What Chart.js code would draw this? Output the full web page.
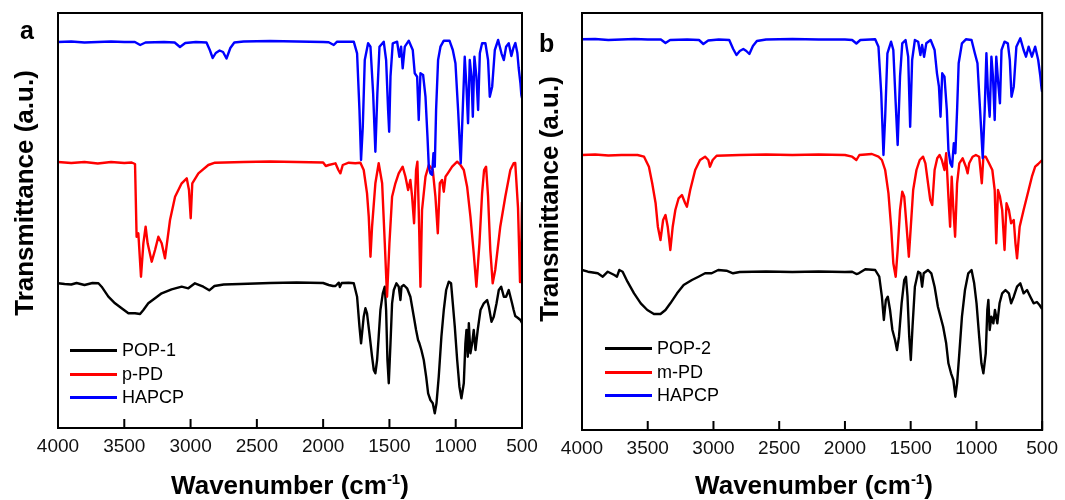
<!DOCTYPE html>
<html>
<head>
<meta charset="utf-8">
<script src="https://cdn.jsdelivr.net/npm/chart.js@4.4.1/dist/chart.umd.min.js"></script>
<style>
  html, body { margin: 0; padding: 0; background: #fff; }
  #wrap { position: relative; width: 1065px; height: 500px; overflow: hidden;
          font-family: "Liberation Sans", Arial, sans-serif; color: #000; }
  canvas { position: absolute; top: 0; }
  #chartA { left: 0; }
  #chartB { left: 530px; }
  .letter { position: absolute; font-weight: bold; font-size: 25px; line-height: 25px; }
  .ytitle { position: absolute; width: 300px; height: 26px; line-height: 26px; font-size: 26px;
            font-weight: bold; text-align: center; white-space: nowrap; transform: rotate(-90deg); }
  .xtitle { position: absolute; width: 300px; height: 26px; line-height: 26px; font-size: 26px;
            font-weight: bold; text-align: center; white-space: nowrap; }
  .xtitle sup { font-size: 15px; line-height: 0; vertical-align: 10px; }
  .legend { position: absolute; font-size: 18px; }
  .legend .row { position: absolute; left: 0; height: 20px; width: 200px; white-space: nowrap; }
  .legend .sw { position: absolute; left: 0; top: 9px; width: 47px; height: 3px; }
  .legend .txt { position: absolute; left: 52px; top: 0; line-height: 20px; }
</style>
</head>
<body>
<div id="wrap">
  <canvas id="chartA" width="560" height="500"></canvas>
  <canvas id="chartB" width="535" height="500"></canvas>

  <div class="letter" style="left:20px; top:18px;">a</div>
  <div class="letter" style="left:539px; top:31px;">b</div>

  <div class="ytitle" style="left:-126px; top:180px;">Transmittance (a.u.)</div>
  <div class="ytitle" style="left:399px; top:186px;">Transmittance (a.u.)</div>

  <div class="xtitle" style="left:140px; top:472px;">Wavenumber (cm<sup>-1</sup>)</div>
  <div class="xtitle" style="left:664px; top:472px;">Wavenumber (cm<sup>-1</sup>)</div>

  <div class="legend" id="legendA" style="left:70px; top:340px;"></div>
  <div class="legend" id="legendB" style="left:605px; top:338px;"></div>
</div>

<script>
// ---------- DATA (wavenumber cm-1, transmittance a.u. incl. stacking offset) ----------

const X_TICKS = [4000, 3500, 3000, 2500, 2000, 1500, 1000, 500];

const LABELS_A = ["POP-1", "p-PD", "HAPCP"];
const LABELS_B = ["POP-2", "m-PD", "HAPCP"];

const COLORS = [
  "#000000", // polymer
  "#ff0000", // diamine
  "#0000ff"  // HAPCP
];

// panel a
const hapcpA = [
  [4000,386],[3900,386.5],[3800,385.5],[3700,386],[3600,386.5],[3500,386],[3420,386],[3380,383],
  [3340,385.5],[3200,386],[3120,385.5],[3080,381],[3040,385],[2960,386],[2880,385.5],[2855,378],
  [2833,370],[2810,375],[2781,377.5],[2755,376],[2729,369.5],[2700,380],[2670,385.5],[2600,386.5],
  [2400,387],[2200,386.5],[2000,386],[1958,385.7],[1920,383],[1895,386.3],[1769,386.3],[1744,374.7],
  [1726,318],[1714,268],[1701,301],[1686,368],[1661,384.7],[1643,381.3],[1623,334.7],[1606,276.3],
  [1591,334.7],[1575,381.3],[1543,386.3],[1525,368],[1510,318],[1502,296.3],[1492,351.3],[1475,384.7],
  [1442,386.3],[1425,371.3],[1412,381.3],[1400,359.7],[1384,381.3],[1354,387.3],[1324,378],[1309,354.7],
  [1291,351.3],[1279,308],[1266,354.7],[1246,353],[1228,331.3],[1213,291.3],[1203,261.3],[1191,254.7],
  [1178,253],[1168,274.7],[1158,261.3],[1148,318],[1133,368],[1115,381.3],[1090,387.3],[1047,387.3],
  [1022,378],[1002,364.7],[982,318],[962,264.7],[947,318],[932,371.3],[919,341.3],[907,304.7],
  [894,368],[881,351.3],[871,311.3],[859,371.3],[844,351.3],[831,318],[818,374.7],[801,384.7],
  [776,384.7],[756,368],[743,331.3],[725,341.3],[705,378],[680,388],[655,374.7],[637,368],
  [620,381.3],[600,384.7],[580,372],[565,380],[550,385],[535,375],[525,360],[512,345],[505,333],[500,330]
];

const pPD = [
  [4000,266],[3900,265],[3800,266],[3700,264.5],[3600,266],[3500,265],[3444,265.5],[3419,264],
  [3407,191.3],[3394,194.7],[3374,151.3],[3356,184.7],[3339,201.3],[3324,184.7],[3293,166.3],[3268,178],
  [3243,191.3],[3218,184.7],[3193,169.7],[3155,208],[3117,231.3],[3067,244.7],[3029,249.7],[3012,238],
  [2999,209.7],[2987,244.7],[2941,254.7],[2866,263],[2816,265.3],[2600,266],[2400,266.5],[2200,266],
  [2000,265.5],[1980,262],[1958,263],[1907,264.7],[1885,258],[1870,254.7],[1852,263],[1807,265.3],
  [1757,264.7],[1719,265.3],[1694,258],[1669,234.7],[1656,211.3],[1643,171.3],[1631,201.3],[1606,244.7],
  [1581,264.7],[1555,244.7],[1535,184.7],[1518,131.3],[1500,184.7],[1480,231.3],[1455,244.7],[1430,254.7],
  [1400,261.3],[1379,251.3],[1359,238],[1342,248],[1329,231.3],[1314,204.7],[1299,258],[1289,266.3],
  [1279,218],[1266,141.3],[1254,218],[1228,251.3],[1203,263],[1173,258],[1153,231.3],[1135,194.7],
  [1120,244.7],[1103,248],[1090,236.3],[1077,251.3],[1060,254.7],[1027,261.3],[989,266.3],[964,263],
  [939,258],[914,241.3],[889,211.3],[864,174.7],[844,141.3],[821,184.7],[801,234.7],[786,258],
  [771,261.3],[756,231.3],[739,178],[721,144.7],[702,158],[664,201.3],[626,231.3],[588,258],
  [563,264.7],[551,265],[530,220],[515,146],[508,160],[500,226]
];

const pop1 = [
  [4000,144.7],[3950,144],[3900,143.5],[3860,145],[3800,143],[3740,145],[3695,144.7],[3671,141.3],
  [3620,131.3],[3570,124.7],[3520,119.7],[3469,114.7],[3419,114.7],[3381,114],[3356,118],[3319,124.7],
  [3268,129.7],[3218,134.7],[3143,138.7],[3067,141.3],[3017,139.7],[2967,144.7],[2904,141.3],[2859,137.7],
  [2820,142],[2750,143.5],[2626,144],[2400,145],[2200,145.5],[2000,145],[1958,143],[1926,142],
  [1907,142],[1882,145.3],[1874,141],[1860,145],[1807,145.3],[1769,144.7],[1744,131.3],[1726,101.3],
  [1714,84.7],[1694,111.3],[1681,119.7],[1669,114.7],[1651,94.7],[1631,71.3],[1618,58],[1606,54.7],
  [1593,68],[1581,91.3],[1568,118],[1550,134.7],[1535,141.3],[1525,118],[1515,68],[1505,44.7],
  [1492,84.7],[1480,124.7],[1467,138],[1447,144.7],[1430,141.3],[1417,128],[1409,141.3],[1392,143],
  [1367,139.7],[1342,131.3],[1316,111.3],[1299,98],[1284,88],[1274,84.7],[1259,78],[1241,68],
  [1223,51.3],[1208,34.7],[1191,28],[1173,24.7],[1158,14.7],[1145,24.7],[1128,51.3],[1108,91.3],
  [1090,118],[1072,138],[1052,146.3],[1035,144.7],[1022,124.7],[1007,101.3],[989,68],[972,41.3],
  [957,29.7],[939,44.7],[927,84.7],[919,98],[909,71.3],[901,104.7],[889,74.7],[876,84.7],
  [864,98],[851,78],[834,98],[813,118],[788,124.7],[763,128],[750,121.3],[730,106.3],
  [713,111.3],[692,124.7],[675,138],[657,141.3],[637,131.3],[620,131.3],[600,138],[575,124.7],
  [563,118],[551,112],[530,110],[512,108],[500,105]
];

// panel b
const hapcpB = [
  [4000,390.7],[3900,391],[3800,390],[3700,390.5],[3600,391],[3500,390.5],[3400,390.5],[3365,387],
  [3330,390],[3200,390.5],[3110,390],[3077,386],[3040,389.5],[2960,390.5],[2880,390],[2850,381],
  [2825,375],[2800,379],[2773,381],[2750,379],[2727,376],[2700,384],[2670,389],[2600,390.5],
  [2400,391],[2200,390.5],[2000,390.5],[1945,390],[1913,386.5],[1883,390],[1770,390.7],[1745,383.3],
  [1724,336.7],[1707,275],[1694,313.3],[1677,376.7],[1649,388.3],[1632,380],[1614,326.7],[1599,285],
  [1581,353.3],[1564,386.7],[1539,390],[1519,373.3],[1504,303.3],[1489,370],[1468,390],[1443,388.3],
  [1426,375],[1413,385],[1398,373.3],[1381,386.7],[1348,390],[1318,380],[1300,356.7],[1285,343.3],
  [1273,313.3],[1260,356.7],[1243,353.3],[1225,320],[1213,280],[1198,266.7],[1185,263.3],[1172,286.7],
  [1160,276.7],[1147,320],[1135,366.7],[1110,386.7],[1080,390.7],[1037,390],[1012,376.7],[992,366.7],
  [972,320],[952,271.7],[937,320],[924,376.7],[912,336.7],[899,313.3],[886,373.3],[874,353.3],
  [861,310],[849,373.3],[834,346.7],[821,326.7],[809,380],[786,388.3],[761,386.7],[746,370],
  [733,333.3],[716,343.3],[696,383.3],[666,391.7],[641,380],[623,373.3],[603,383.3],[578,373.3],
  [553,383.3],[530,370],[515,355],[505,342],[500,338]
];

const mPD = [
  [4000,275],[3900,275.5],[3800,274.5],[3700,275],[3600,275],[3578,275],[3528,273.3],[3491,263.3],
  [3466,246.7],[3440,226.7],[3423,203.3],[3403,190],[3383,210],[3365,215],[3348,203.3],[3328,180],
  [3310,203.3],[3290,220],[3265,231.7],[3240,235],[3215,226.7],[3202,223.3],[3177,240],[3139,260],
  [3102,270],[3064,273.3],[3039,270],[3027,263.3],[3006,270],[2976,274.3],[2800,275],[2600,275.5],
  [2400,275],[2200,275.5],[2000,275],[1945,273.3],[1913,270],[1890,275],[1795,276],[1745,273.3],
  [1719,270],[1694,260],[1669,236.7],[1649,203.3],[1632,166.7],[1614,153.3],[1599,180],[1581,220],
  [1564,238.3],[1549,233.3],[1531,203.3],[1514,173.3],[1499,203.3],[1481,240],[1456,260],[1431,270],
  [1406,273.3],[1388,266.7],[1368,246.7],[1351,230],[1336,225],[1318,260],[1298,271.7],[1280,275],
  [1263,270],[1243,260],[1230,276.7],[1213,233.3],[1200,203.3],[1188,253.3],[1175,220],[1162,193.3],
  [1147,246.7],[1130,266.7],[1105,271.7],[1080,263.3],[1067,256.7],[1055,266.7],[1029,273.3],[1004,275],
  [979,273.3],[959,246.7],[947,273.3],[929,273.3],[904,266.7],[879,260],[861,240],[849,186.7],
  [836,240],[821,233.3],[804,220],[786,180],[771,226.7],[753,220],[736,206.7],[716,210],
  [703,186.7],[691,171.7],[671,203.3],[641,220],[603,240],[578,253.3],[553,263.3],[530,266],
  [515,268],[500,270]
];

const pop2 = [
  [4000,160],[3955,158.3],[3880,156.7],[3842,153.3],[3804,158.3],[3754,155],[3734,153.3],[3716,160],
  [3691,158.3],[3654,148.3],[3604,136.7],[3553,126.7],[3503,120],[3453,116],[3403,116],[3365,120],
  [3328,126.7],[3277,136.7],[3227,145],[3164,150],[3114,153.3],[3064,156.7],[3014,156.7],[2964,160],
  [2901,159.3],[2851,156.7],[2800,158],[2600,158.5],[2400,158],[2200,158.5],[2000,158],[1945,158.3],
  [1913,156],[1895,156.7],[1845,160.7],[1770,160],[1739,153.3],[1719,133.3],[1704,110],[1689,130],
  [1674,133.3],[1657,120],[1639,100],[1619,90],[1604,80],[1589,93.3],[1569,126.7],[1549,150],
  [1536,153.3],[1524,133.3],[1511,93.3],[1499,70],[1486,103.3],[1468,143.3],[1443,158.3],[1426,156.7],
  [1413,143.3],[1401,156.7],[1368,160],[1343,156.7],[1318,143.3],[1293,123.3],[1273,113.3],[1253,103.3],
  [1230,86.7],[1213,66.7],[1193,56.7],[1175,50],[1160,33.3],[1147,46.7],[1130,76.7],[1110,113.3],
  [1087,140],[1062,156.7],[1037,160],[1017,146.7],[999,126.7],[979,93.3],[962,66.7],[947,56.7],
  [929,76.7],[917,120],[909,130],[899,100],[886,113.3],[871,106.7],[859,120],[841,106.7],
  [824,126.7],[804,136.7],[779,140],[753,136.7],[736,126.7],[716,133.3],[691,143.3],[666,146.7],
  [641,136.7],[615,140],[590,133.3],[565,126.7],[540,128],[520,125],[500,121]
];

// ---------- HELPERS ----------

const FONT = '"Liberation Sans", Arial, sans-serif';

function toPoints(pairs) {
  return pairs.map(([x, y]) => ({ x, y }));
}

function buildDatasets(series, labels) {
  // black at the bottom, blue drawn on top
  return series.map((pairs, i) => ({
    label: labels[i],
    data: toPoints(pairs),
    borderColor: COLORS[i],
    borderWidth: 2.4,
    pointRadius: 0,
    tension: 0,
    borderJoinStyle: "round",
    order: series.length - i
  }));
}

function buildLegend(id, labels) {
  const box = document.getElementById(id);
  const gaps = [0, 23.5, 47];
  labels.forEach((lab, i) => {
    const row = document.createElement("div");
    row.className = "row";
    row.style.top = gaps[i] + "px";
    row.innerHTML = `<div class="sw" style="background:${COLORS[i]}"></div><div class="txt"></div>`;
    row.querySelector(".txt").textContent = lab;
    box.appendChild(row);
  });
}

// box round the plot and inward ticks on the bottom axis
const framePlugin = {
  id: "frame",
  afterDatasetsDraw(chart) {
    const { ctx, chartArea: a, scales: { x } } = chart;
    ctx.save();
    ctx.strokeStyle = "#000";
    ctx.lineWidth = 2;
    ctx.strokeRect(a.left, a.top, a.right - a.left, a.bottom - a.top);
    ctx.beginPath();
    X_TICKS.forEach(v => {
      const px = x.getPixelForValue(v);
      ctx.moveTo(px, a.bottom);
      ctx.lineTo(px, a.bottom - 9);
    });
    ctx.stroke();
    ctx.restore();
  }
};

// ---------- CHART ----------

function createPanel(canvasId, series, labels, yMax, padding, axisHeight) {
  const ctx = document.getElementById(canvasId);
  return new Chart(ctx, {
    type: "line",
    data: { datasets: buildDatasets(series, labels) },
    options: {
      responsive: false,
      animation: false,
      devicePixelRatio: 1,
      layout: { padding },
      plugins: {
        legend: { display: false },
        tooltip: { enabled: false }
      },
      scales: {
        x: {
          type: "linear",
          reverse: true,
          min: 500,
          max: 4000,
          grid: { display: false, drawTicks: false },
          border: { display: false },
          afterBuildTicks: s => { s.ticks = X_TICKS.map(v => ({ value: v })); },
          afterFit: s => { s.height = axisHeight; },
          ticks: {
            padding: 7,
            color: "#111",
            maxRotation: 0,
            autoSkip: false,
            font: { family: FONT, size: 19 },
            callback: v => String(v)
          }
        },
        y: {
          display: false,
          min: 0,
          max: yMax
        }
      }
    },
    plugins: [framePlugin]
  });
}

function init() {
  createPanel("chartA", [pop1, pPD, hapcpA], LABELS_A, 415,
    { left: 58, top: 13, right: 38, bottom: 0 }, 72);
  createPanel("chartB", [pop2, mPD, hapcpB], LABELS_B, 417,
    { left: 52, top: 13, right: 18, bottom: 0 }, 70);
  buildLegend("legendA", LABELS_A);
  buildLegend("legendB", LABELS_B);
}

init();
</script>
</body>
</html>
